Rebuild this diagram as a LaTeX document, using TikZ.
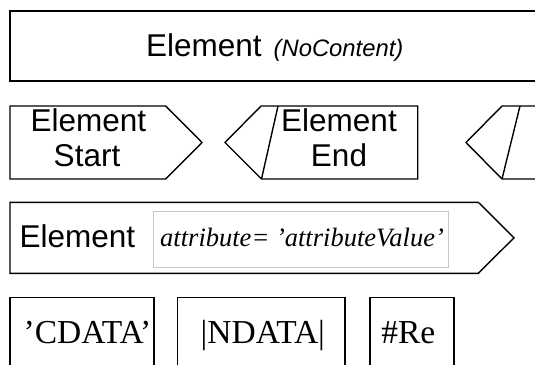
\documentclass[tikz,border=0pt]{standalone}
\usepackage{fontspec}
\setmainfont{Liberation Serif}
\newfontfamily\arialfont{Liberation Sans}
\begin{document}
\begin{tikzpicture}[x=1pt,y=-1pt,line width=1.4pt,line join=miter,
  sanstext/.style={font=\arialfont\fontsize{31.5}{36}\selectfont,inner sep=0pt,anchor=base},
  sansital/.style={font=\arialfont\itshape\fontsize{23.8}{26}\selectfont,inner sep=0pt,anchor=base west},
  serifital/.style={font=\itshape\fontsize{26.5}{30}\selectfont,inner sep=0pt,anchor=base},
  seriftext/.style={font=\fontsize{33.5}{38}\selectfont,inner sep=0pt,anchor=base},
  attrbox/.style={draw=black!22,line width=0.8pt}]
\useasboundingbox (0,0) rectangle (535,364);
\clip (0,0) rectangle (535,364);
% row 1
\draw (10,11) rectangle (560,81);
\node[sanstext,anchor=base west] (nocel) at (145.5,56) {Element};
\node[sansital] (nocnc) at (273,56) {(NoContent)};
% row 2
\draw (10,106) -- (165.7,106) -- (202,142.5) -- (165.7,179) -- (10,179) -- cycle;
\node[sanstext] (st1) at (88.3,131.7) {Element};
\node[sanstext] (st2) at (87,166.7) {Start};
\draw (225,142.5) -- (261,106) -- (417.7,106) -- (417.7,179) -- (261.5,179) -- cycle;
\draw (278,106) -- (261.5,179);
\node[sanstext] (en1) at (339,131.7) {Element};
\node[sanstext] (en2) at (339,166.7) {End};
\draw (560,106) -- (502,106) -- (466,142.5) -- (502,179) -- (560,179);
\draw (520,106) -- (502,179);
% row 3
\draw (10,202.3) -- (478.3,202.3) -- (514,237.8) -- (478.3,273.3) -- (10,273.3) -- cycle;
\draw[attrbox] (153.3,211.7) rectangle (448.3,267.3);
\node[sanstext] (atel) at (77.3,247.3) {Element};
\node[serifital] (atval) at (302,246.5) {attribute= 'attributeValue'};
% row 4
\draw (10,297.7) rectangle (154,390);
\draw (177.3,297.7) rectangle (345,390);
\draw (370,297.7) rectangle (454,390);
\node[seriftext] (cd) at (87.5,343.3) {'CDATA'};
\node[seriftext] (nd) at (262.8,343.3) {|NDATA|};
\node[seriftext] (re) at (408.3,343.3) {\#Re};
\end{tikzpicture}
\end{document}
